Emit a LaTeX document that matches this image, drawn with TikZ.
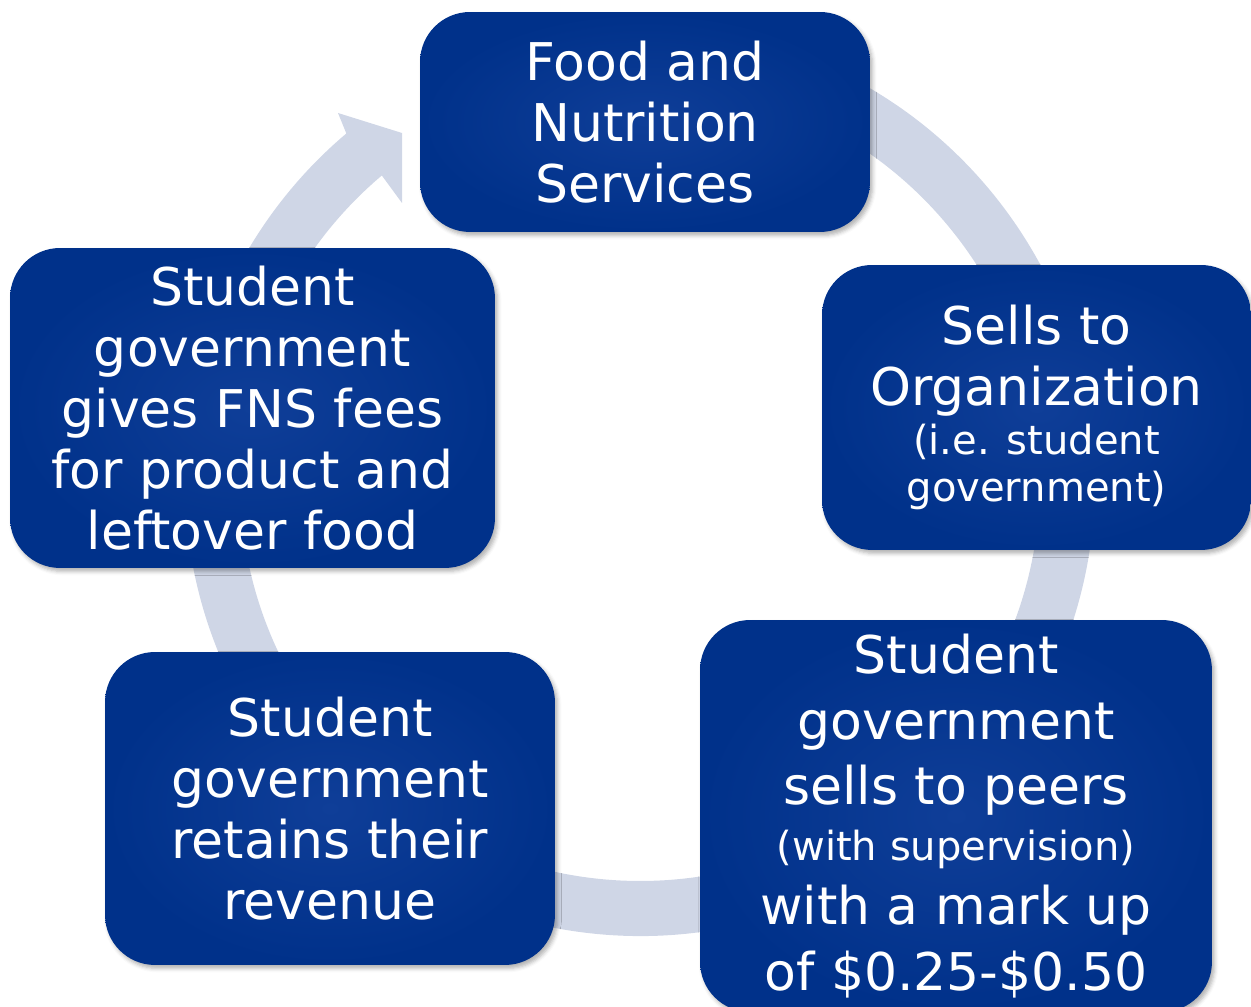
\documentclass[tikz,border=0pt]{standalone}
\usepackage{fontspec}
\setmainfont{DejaVu Sans}
\usetikzlibrary{calc,shadows.blur}

\definecolor{ringgrey}{HTML}{CFD6E6}
\definecolor{boxblue}{HTML}{00318A}
\definecolor{boxglow}{HTML}{0F3E98}

\newcommand{\stagefont}{\fontsize{29.6}{34.7}\selectfont}
\newcommand{\notefont}{\fontsize{22.8}{26.7}\selectfont}

\begin{document}
\begin{tikzpicture}[x=0.02cm, y=0.02cm,
    stage/.style={rectangle, rounded corners=1cm, inner sep=0pt,
        inner color=boxglow, outer color=boxblue, text=white,
        align=center, font=\stagefont,
        blur shadow={shadow xshift=1.5pt, shadow yshift=-2pt, shadow opacity=30}},
    ring/.style={fill=ringgrey}]
    \useasboundingbox (0,0) rectangle (1251,1007);

    % the cycle arrow behind the boxes
    \coordinate (c) at (640,526);
    \fill[ring] ($(c)+(80:455)$) arc[start angle=80, end angle=-229.8, radius=455]
        -- (338,894) -- (402,874) -- (402,804)
        -- ($(c)+(130.2:400)$) arc[start angle=130.2, end angle=440, radius=400] -- cycle;

    % the five stages
    \node[stage, minimum width=9cm, minimum height=4.4cm] (fns) at (645,885)
        {Food and\\Nutrition\\Services};
    \node[stage, minimum width=8.58cm, minimum height=5.7cm] (sells) at (1036.5,599.5)
        {Sells to\\Organization\\[-6.8pt]{\notefont (i.e. student}\\[-8pt]{\notefont government)}};
    \node[stage, minimum width=10.24cm, minimum height=7.84cm, font=\fontsize{29.6}{37.5}\selectfont] (peers) at (956,191)
        {Student\\government\\sells to peers\\[-5.7pt]{\notefont (with supervision)}\\[-1.1pt]with a mark up\\of \$0.25-\$0.50};
    \node[stage, minimum width=9cm, minimum height=6.26cm] (revenue) at (330,198.5)
        {Student\\government\\retains their\\revenue};
    \node[stage, minimum width=9.7cm, minimum height=6.4cm] (fees) at (252.5,599)
        {Student\\government\\gives FNS fees\\for product and\\leftover food};
\end{tikzpicture}
\end{document}
